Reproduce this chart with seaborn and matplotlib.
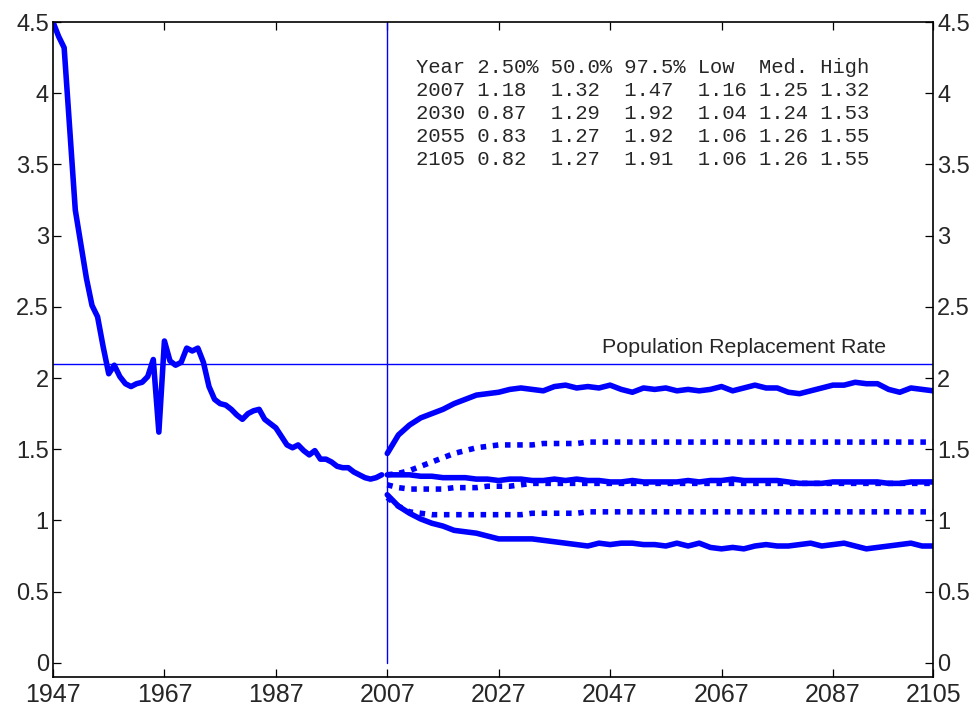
import numpy as np
import pandas as pd
import seaborn as sns
import matplotlib.pyplot as plt
from matplotlib.ticker import FormatStrFormatter

# historical total fertility rate, 1947-2006
hist_years = list(range(1947, 2007))
hist_tfr = [4.50, 4.40, 4.32, 3.75, 3.18, 2.94, 2.70, 2.51, 2.43, 2.22,
            2.03, 2.09, 2.01, 1.96, 1.94, 1.96, 1.97, 2.01, 2.13, 1.62,
            2.26, 2.12, 2.09, 2.11, 2.21, 2.19, 2.21, 2.11, 1.94, 1.85,
            1.82, 1.81, 1.78, 1.74, 1.71, 1.75, 1.77, 1.78, 1.71, 1.68,
            1.65, 1.59, 1.53, 1.51, 1.53, 1.49, 1.46, 1.49, 1.43, 1.43,
            1.41, 1.38, 1.37, 1.37, 1.34, 1.32, 1.30, 1.29, 1.30, 1.32]

# projections, every second year 2007-2105
proj_years = list(range(2007, 2106, 2))
p975 = [1.47, 1.60, 1.67, 1.72, 1.75, 1.78, 1.82, 1.85, 1.88, 1.89,
        1.90, 1.92, 1.93, 1.92, 1.91, 1.94, 1.95, 1.93, 1.94, 1.93,
        1.95, 1.92, 1.90, 1.93, 1.92, 1.93, 1.91, 1.92, 1.91, 1.92,
        1.94, 1.91, 1.93, 1.95, 1.93, 1.93, 1.90, 1.89, 1.91, 1.93,
        1.95, 1.95, 1.97, 1.96, 1.96, 1.92, 1.90, 1.93, 1.92, 1.91]
p500 = [1.32, 1.32, 1.32, 1.31, 1.31, 1.30, 1.30, 1.30, 1.29, 1.29,
        1.28, 1.29, 1.29, 1.28, 1.28, 1.29, 1.28, 1.29, 1.28, 1.28,
        1.27, 1.27, 1.28, 1.27, 1.27, 1.27, 1.27, 1.28, 1.27, 1.28,
        1.28, 1.29, 1.28, 1.28, 1.28, 1.28, 1.27, 1.26, 1.26, 1.26,
        1.27, 1.27, 1.27, 1.27, 1.27, 1.26, 1.26, 1.27, 1.27, 1.27]
p025 = [1.18, 1.10, 1.05, 1.01, 0.98, 0.96, 0.93, 0.92, 0.91, 0.89,
        0.87, 0.87, 0.87, 0.87, 0.86, 0.85, 0.84, 0.83, 0.82, 0.84,
        0.83, 0.84, 0.84, 0.83, 0.83, 0.82, 0.84, 0.82, 0.84, 0.81,
        0.80, 0.81, 0.80, 0.82, 0.83, 0.82, 0.82, 0.83, 0.84, 0.82,
        0.83, 0.84, 0.82, 0.80, 0.81, 0.82, 0.83, 0.84, 0.82, 0.82]
high = [1.32, 1.33, 1.35, 1.38, 1.41, 1.44, 1.47, 1.49, 1.51, 1.52,
        1.53, 1.53, 1.53, 1.53, 1.54, 1.54, 1.54, 1.54, 1.55, 1.55,
        1.55, 1.55, 1.55, 1.55, 1.55, 1.55, 1.55, 1.55, 1.55, 1.55,
        1.55, 1.55, 1.55, 1.55, 1.55, 1.55, 1.55, 1.55, 1.55, 1.55,
        1.55, 1.55, 1.55, 1.55, 1.55, 1.55, 1.55, 1.55, 1.55, 1.55]
med = [1.25, 1.23, 1.22, 1.22, 1.22, 1.22, 1.23, 1.23, 1.23, 1.24,
       1.24, 1.24, 1.25, 1.26, 1.26, 1.26, 1.26, 1.26, 1.26, 1.26,
       1.26, 1.26, 1.26, 1.26, 1.26, 1.26, 1.26, 1.26, 1.26, 1.26,
       1.26, 1.26, 1.26, 1.26, 1.26, 1.26, 1.26, 1.26, 1.26, 1.26,
       1.26, 1.26, 1.26, 1.26, 1.26, 1.26, 1.26, 1.26, 1.26, 1.26]
low = [1.16, 1.10, 1.06, 1.05, 1.04, 1.04, 1.04, 1.04, 1.04, 1.04,
       1.04, 1.04, 1.04, 1.05, 1.05, 1.05, 1.05, 1.05, 1.06, 1.06,
       1.06, 1.06, 1.06, 1.06, 1.06, 1.06, 1.06, 1.06, 1.06, 1.06,
       1.06, 1.06, 1.06, 1.06, 1.06, 1.06, 1.06, 1.06, 1.06, 1.06,
       1.06, 1.06, 1.06, 1.06, 1.06, 1.06, 1.06, 1.06, 1.06, 1.06]

# summary table
tab_years = [2007, 2030, 2055, 2105]
tab_p025 = [1.18, 0.87, 0.83, 0.82]
tab_p500 = [1.32, 1.29, 1.27, 1.27]
tab_p975 = [1.47, 1.92, 1.92, 1.91]
tab_low = [1.16, 1.04, 1.06, 1.06]
tab_med = [1.25, 1.24, 1.26, 1.26]
tab_high = [1.32, 1.53, 1.55, 1.55]

replacement = 2.1
split_year = 2007
x_ticks = [1947, 1967, 1987, 2007, 2027, 2047, 2067, 2087, 2105]
y_ticks = [0, 0.5, 1, 1.5, 2, 2.5, 3, 3.5, 4, 4.5]

sns.set_style("white")
plt.rcParams['font.family'] = ['Liberation Sans', 'DejaVu Sans']

fig = plt.figure(figsize=(9.78, 7.08), dpi=100)
ax = fig.add_axes([0.0542, 0.0438, 0.9, 0.925])

blue = (0, 0, 1)
lw = 4.0

sns.lineplot(x=hist_years, y=hist_tfr, ax=ax, color=blue, lw=lw)
for vals in (p975, p500, p025):
    sns.lineplot(x=proj_years, y=vals, ax=ax, color=blue, lw=lw)
for vals in (high, med, low):
    sns.lineplot(x=proj_years, y=vals, ax=ax, color=blue, lw=lw)
    ax.lines[-1].set_dashes([1.0, 1.2])

ax.axhline(replacement, color=blue, lw=1.0)
ax.plot([split_year, split_year], [0, 4.5], color=blue, lw=1.0)

ax.set_xlim(1947, 2105)
ax.set_ylim(-0.1, 4.5)
ax.set_xticks(x_ticks)
ax.set_yticks(y_ticks)
ax.yaxis.set_major_formatter(FormatStrFormatter('%g'))
ax.tick_params(axis='both', direction='in', length=6, width=0.9,
               labelsize=17, color='black', bottom=True, left=True,
               top=True, right=True, labelright=True)
ax.tick_params(axis='x', labelsize=18, pad=4)
ax.tick_params(axis='y', pad=3)
for sp in ax.spines.values():
    sp.set_color('black')
    sp.set_linewidth(1.2)

ax.text(2096.6, replacement + 0.05, 'Population Replacement Rate',
        ha='right', va='bottom', fontsize=15.4)

rows = ['Year 2.50% 50.0% 97.5% Low  Med. High']
for i in range(len(tab_years)):
    rows.append('%d %.2f  %.2f  %.2f  %.2f %.2f %.2f' % (
        tab_years[i], tab_p025[i], tab_p500[i], tab_p975[i],
        tab_low[i], tab_med[i], tab_high[i]))
for i, row in enumerate(rows):
    ax.text(2012.1, 4.184 - 0.163 * i, row, ha='left', va='center',
            fontsize=14.8, family='Liberation Mono')

ax.set_xlabel('')
ax.set_ylabel('')
fig.savefig('out.png', dpi=100)
